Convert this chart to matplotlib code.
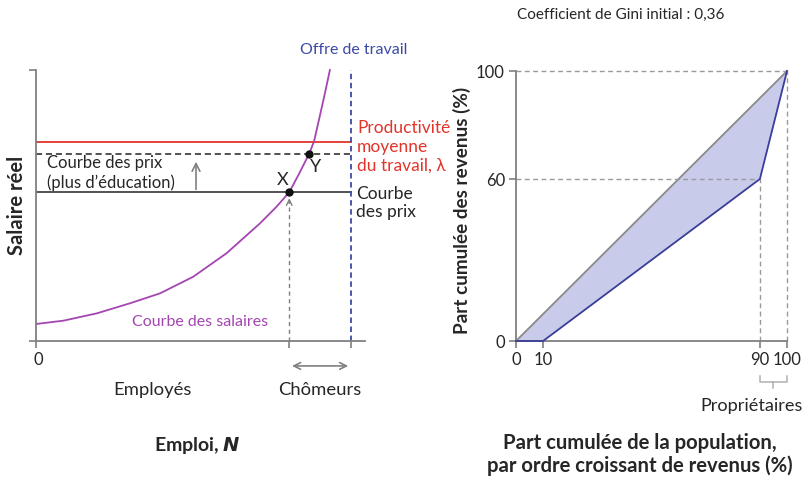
import matplotlib
matplotlib.use("Agg")
import matplotlib.pyplot as plt
from matplotlib.patches import FancyArrowPatch

plt.rcParams['font.family'] = ['Lato', 'DejaVu Sans']

# ---------------- data ----------------
# Left panel: wage-setting curve, employment 0..100 = labour force
wage_N = [0.2, 8.7, 19.3, 29.8, 39.4, 49.9, 60.5, 71.1, 76.4, 80.4, 83.6, 86.8, 88.3, 90.0, 91.7, 93.3]
wage_w = [6.3, 7.5, 10.2, 13.9, 17.6, 23.7, 32.4, 43.4, 49.6, 54.9, 61.9, 69.3, 73.8, 82.5, 91.3, 100.0]
labour_supply = 100
productivity = 73.5
price_curve = 54.9
price_curve_edu = 69.1
point_X = (80.4, 54.9)
point_Y = (86.7, 69.1)

# Right panel: Lorenz curve
lorenz_x = [0, 10, 90, 100]
lorenz_y = [0, 0, 60, 100]
equal_x = [0, 100]
equal_y = [0, 100]
x_ticks_r = [0, 10, 90, 100]
y_ticks_r = [0, 60, 100]
gini_text = "Coefficient de Gini initial : 0,36"

GRAY = '#808080'
RED = '#e3342a'
BLUE = '#3c4aa6'
PURPLE = '#a445b2'
DARK = '#262626'
LAV = '#c8cbea'
LBLUE = '#3a3e99'

W, H = 809, 488
fig = plt.figure(figsize=(W / 100, H / 100), dpi=100)

def pos(l, t, r, b):
    return [l / W, 1 - b / H, (r - l) / W, (b - t) / H]

# ---------------- left panel ----------------
ax = fig.add_axes(pos(36, 70, 365, 341))
ax.set_xlim(0, (365 - 36) / 3.15)
ax.set_ylim(0, 100)
for s in ['top', 'right']:
    ax.spines[s].set_visible(False)
for s in ['left', 'bottom']:
    ax.spines[s].set_color(GRAY)
    ax.spines[s].set_linewidth(1.3)
ax.set_xticks([0, point_X[0], labour_supply])
ax.set_xticklabels([])
ax.set_yticks([0, 100])
ax.set_yticklabels([])
ax.tick_params(colors=GRAY, length=5, width=1.2)

ax.axhline(productivity, xmin=0, xmax=labour_supply / ax.get_xlim()[1], color=RED, lw=1.3)
ax.axhline(price_curve, xmin=0, xmax=labour_supply / ax.get_xlim()[1], color='#444444', lw=1.3)
ax.plot([0, labour_supply], [price_curve_edu] * 2, color='#222222', lw=1.1, ls=(0, (4, 2.5)))
ax.plot([labour_supply] * 2, [0, 100], color=BLUE, lw=1.3, ls=(0, (3, 2)))
ax.plot(wage_N, wage_w, color=PURPLE, lw=1.3, clip_on=False, solid_joinstyle='round')
ax.plot([point_X[0]] * 2, [0, point_X[1] - 2], color=GRAY, lw=1, ls=(0, (3, 2.5)))
ax.annotate('', xy=(point_X[0], point_X[1] - 1.2), xytext=(point_X[0], point_X[1] - 5),
            arrowprops=dict(arrowstyle='->', color=GRAY, lw=1))
ax.annotate('', xy=(50.8, 67.2), xytext=(50.8, price_curve),
            arrowprops=dict(arrowstyle='->', color=GRAY, lw=1.2, mutation_scale=14))
ax.plot(*point_X, 'o', color='#111111', ms=5, zorder=5)
ax.plot(*point_Y, 'o', color='#111111', ms=5, zorder=5)
ax.text(78.4, 59.4, 'X', fontsize=13, color=DARK, ha='center', va='center')
ax.text(88.9, 64.2, 'Y', fontsize=13, color=DARK, ha='center', va='center')

ax.text(101, 107.4, 'Offre de travail', fontsize=11.5, color=BLUE, ha='center', va='center', clip_on=False)
ax.text(101.9, 71.6, 'Productivité\nmoyenne\ndu travail, λ', fontsize=12.5, color=RED,
        ha='left', va='center', linespacing=1.2, clip_on=False)
ax.text(101.5, 50.9, 'Courbe\ndes prix', fontsize=12.5, color=DARK,
        ha='left', va='center', linespacing=1.2, clip_on=False)
ax.text(3.5, 62.0, 'Courbe des prix\n(plus d’éducation)', fontsize=12, color=DARK,
        ha='left', va='center', linespacing=1.2)
ax.text(52.1, 7.0, 'Courbe des salaires', fontsize=11.5, color=PURPLE, ha='center', va='center')
ax.text(0.6, -7, '0', fontsize=12, color=DARK, ha='center', va='center', clip_on=False)
arr = FancyArrowPatch((point_X[0], -9.2), (labour_supply, -9.2), arrowstyle='<->',
                      mutation_scale=12, color=GRAY, lw=1.2, clip_on=False)
ax.add_patch(arr)
ax.text(37.1, -18.1, 'Employés', fontsize=13.3, color=DARK, ha='center', va='center', clip_on=False)
ax.text(90.2, -18.1, 'Chômeurs', fontsize=13.3, color=DARK, ha='center', va='center', clip_on=False)
ax.text(51.4, -38.4, r'Emploi, $\boldsymbol{N}$', fontsize=14, color=DARK, ha='center',
        va='center', fontweight='bold', clip_on=False)
ax.text(-6, 50.2, 'Salaire réel', fontsize=14.5, color=DARK, ha='center', va='center',
        rotation=90, fontweight='bold', clip_on=False)

# ---------------- right panel ----------------
ax2 = fig.add_axes(pos(516, 71, 787, 341))
ax2.set_xlim(0, 100)
ax2.set_ylim(0, 100)
for s in ['top', 'right']:
    ax2.spines[s].set_visible(False)
for s in ['left', 'bottom']:
    ax2.spines[s].set_color(GRAY)
    ax2.spines[s].set_linewidth(1.3)
ax2.set_xticks(x_ticks_r)
ax2.set_yticks(y_ticks_r)
ax2.tick_params(colors=GRAY, labelcolor=DARK, length=5, width=1.2, labelsize=12, pad=3)

ax2.fill(equal_x + lorenz_x[::-1][1:-1], equal_y + lorenz_y[::-1][1:-1], color=LAV, lw=0, zorder=1)
ax2.plot(equal_x, equal_y, color='#8a8a8a', lw=1.3, zorder=2, clip_on=False)
ax2.plot(lorenz_x, lorenz_y, color=LBLUE, lw=1.3, zorder=3, clip_on=False)
dash = dict(color='#9a9a9a', lw=1, ls=(0, (3.5, 2.5)), zorder=2, clip_on=False)
ax2.plot([0, lorenz_x[2]], [lorenz_y[2]] * 2, **dash)
ax2.plot([lorenz_x[2]] * 2, [0, lorenz_y[2]], **dash)
ax2.plot([0, 100], [100, 100], **dash)
ax2.plot([100, 100], [0, 100], **dash)

ax2.text(38.7, 120.7, gini_text, fontsize=11, color=DARK, ha='center', va='center', clip_on=False)
ax2.text(-19.9, 48.5, 'Part cumulée des revenus (%)', fontsize=13.6, color=DARK, ha='center',
         va='center', rotation=90, fontweight='bold', clip_on=False)
ax2.text(45.8, -42.2, 'Part cumulée de la population,\npar ordre croissant de revenus (%)',
         fontsize=14.6, color=DARK, ha='center', va='center', fontweight='bold',
         linespacing=1.15, clip_on=False)
ax2.plot([90, 90, 100, 100], [-13, -15.2, -15.2, -13], color='#b0b0b0', lw=1.1, clip_on=False)
ax2.plot([95, 95], [-15.2, -17.4], color='#b0b0b0', lw=1.1, clip_on=False)
ax2.text(86.8, -24.1, 'Propriétaires', fontsize=13.1, color=DARK, ha='center', va='center', clip_on=False)

fig.savefig('out.png', dpi=100)
